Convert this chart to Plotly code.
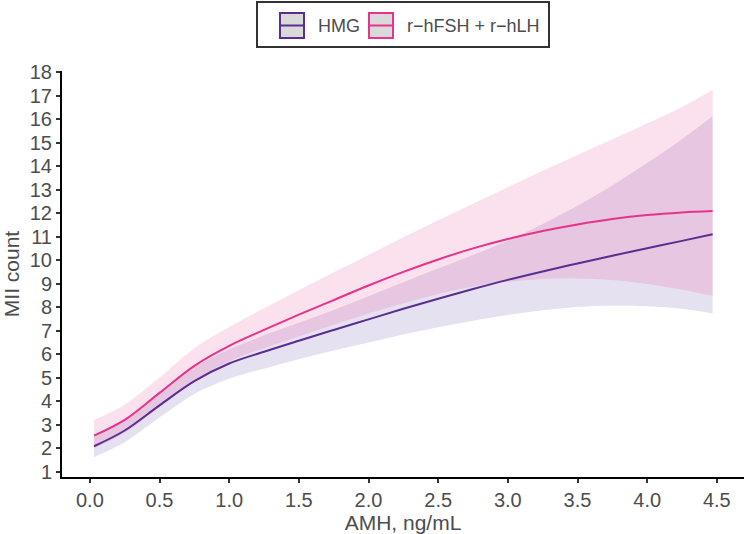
import plotly.graph_objects as go

amh = [0.03, 0.25, 0.5, 0.75, 1.0, 1.25, 1.5, 1.75, 2.0, 2.25, 2.5, 2.75, 3.0, 3.25, 3.5, 3.75, 4.0, 4.25, 4.47]

hmg_fit = [2.08, 2.75, 3.82, 4.85, 5.6, 6.1, 6.57, 7.03, 7.48, 7.93, 8.36, 8.77, 9.16, 9.52, 9.86, 10.19, 10.51, 10.82, 11.1]
hmg_upper = [2.53, 3.2, 4.35, 5.45, 6.2, 6.8, 7.33, 7.88, 8.46, 9.06, 9.64, 10.22, 10.84, 11.54, 12.32, 13.18, 14.13, 15.15, 16.12]
hmg_lower = [1.62, 2.25, 3.3, 4.3, 4.95, 5.38, 5.78, 6.15, 6.49, 6.83, 7.14, 7.42, 7.67, 7.87, 8.01, 8.06, 8.04, 7.93, 7.73]

rec_fit = [2.53, 3.2, 4.35, 5.5, 6.35, 7.03, 7.68, 8.3, 8.92, 9.5, 10.03, 10.5, 10.9, 11.24, 11.52, 11.75, 11.92, 12.03, 12.09]
rec_upper = [3.2, 3.85, 5.0, 6.25, 7.15, 7.95, 8.72, 9.48, 10.22, 10.97, 11.7, 12.4, 13.1, 13.8, 14.48, 15.14, 15.82, 16.52, 17.25]
rec_lower = [2.0, 2.65, 3.75, 4.85, 5.7, 6.25, 6.75, 7.25, 7.73, 8.17, 8.56, 8.88, 9.08, 9.2, 9.22, 9.15, 8.98, 8.74, 8.48]

groups = ["HMG", "r\u2212hFSH + r\u2212hLH"]
line_colors = ["#5a2d91", "#e6338c"]
band_colors = ["rgba(100,70,160,0.16)", "rgba(233,60,140,0.16)"]

x_ticks = [0.0, 0.5, 1.0, 1.5, 2.0, 2.5, 3.0, 3.5, 4.0, 4.5]
y_ticks = list(range(1, 19))

# layout geometry (pixels)
W, H = 744, 534
ML, MR, MT, MB = 62, 0, 71, 57
PW, PH = W - ML - MR, H - MT - MB


def px(x):
    return (x - ML) / PW


def py(y):
    return (H - MB - y) / PH


fig = go.Figure()
series = [(hmg_fit, hmg_lower, hmg_upper), (rec_fit, rec_lower, rec_upper)]
for i, (fit, lo, hi) in enumerate(series):
    fig.add_trace(go.Scatter(x=amh, y=lo, mode="lines",
                             line=dict(width=0, shape="spline", color=band_colors[i]),
                             hoverinfo="skip", showlegend=False))
    fig.add_trace(go.Scatter(x=amh, y=hi, mode="lines", fill="tonexty",
                             fillcolor=band_colors[i],
                             line=dict(width=0, shape="spline", color=band_colors[i]),
                             hoverinfo="skip", showlegend=False))
for i, (fit, lo, hi) in enumerate(series):
    fig.add_trace(go.Scatter(x=amh, y=fit, mode="lines", name=groups[i],
                             line=dict(color=line_colors[i], width=2, shape="spline"),
                             showlegend=False))

# manual legend
shapes = [dict(type="rect", xref="paper", yref="paper",
               x0=px(257), x1=px(549), y0=py(2), y1=py(47),
               line=dict(color="#333333", width=2), fillcolor="white", layer="above")]
annotations = []
sym_x = [280, 369]
txt_x = [316, 405]
for i in range(2):
    shapes.append(dict(type="rect", xref="paper", yref="paper",
                       x0=px(sym_x[i]), x1=px(sym_x[i] + 24), y0=py(13), y1=py(38),
                       line=dict(color=line_colors[i], width=2), fillcolor="#d9d9d9", layer="above"))
    shapes.append(dict(type="line", xref="paper", yref="paper",
                       x0=px(sym_x[i]), x1=px(sym_x[i] + 24), y0=py(25.5), y1=py(25.5),
                       line=dict(color=line_colors[i], width=2), layer="above"))
    annotations.append(dict(text=groups[i], xref="paper", yref="paper",
                            x=px(txt_x[i]), y=py(25.5), xanchor="left", yanchor="middle",
                            showarrow=False, font=dict(size=18, color="#4d4d4d")))

fig.update_layout(
    width=W, height=H,
    margin=dict(l=ML, r=MR, t=MT, b=MB),
    plot_bgcolor="white", paper_bgcolor="white",
    font=dict(family="Liberation Sans, Arial, sans-serif", color="#4d4d4d"),
    showlegend=False,
    shapes=shapes, annotations=annotations,
    xaxis=dict(range=[-0.2, 4.695], tickvals=x_ticks, ticktext=[f"{v:.1f}" for v in x_ticks],
               showgrid=False, zeroline=False, showline=True, linecolor="black", linewidth=2,
               ticks="outside", ticklen=4, tickwidth=2, tickcolor="#333333",
               tickfont=dict(size=20, color="#4d4d4d"),
               title=dict(text="AMH, ng/mL", font=dict(size=21, color="#4d4d4d"), standoff=2)),
    yaxis=dict(range=[0.77, 18.05], tickvals=y_ticks,
               showgrid=False, zeroline=False, showline=True, linecolor="black", linewidth=2,
               ticks="outside", ticklen=4, tickwidth=2, tickcolor="#333333",
               tickfont=dict(size=20, color="#4d4d4d"),
               title=dict(text="MII count", font=dict(size=21, color="#4d4d4d"), standoff=4)),
)

fig.write_html("out.html")
